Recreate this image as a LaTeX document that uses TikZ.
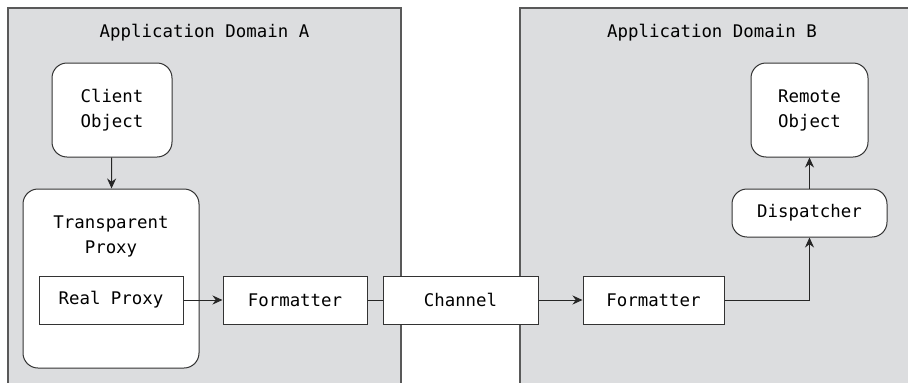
\documentclass[tikz,border=0pt]{standalone}
\usepackage{fontspec}
\setmonofont{DejaVu Sans Mono}
\usetikzlibrary{arrows.meta}
\begin{document}
\begin{tikzpicture}[
    x=1pt,y=-1pt,
    appdomain/.style={fill=domaingray,draw=none},
    edge/.style={draw=black!65,line width=1.1pt},
    title/.style={font=\ttfamily\fontsize{17.4}{25}\selectfont},
    box/.style={draw=black!80,fill=white,line width=1pt,align=center,inner sep=0pt,
        font=\ttfamily\fontsize{17.4}{25}\selectfont},
    rbox/.style={box,rounded corners=15pt},
    link/.style={draw=black!85,line width=1pt},
    >={Stealth[length=10pt,width=9pt]}
]
\definecolor{domaingray}{HTML}{DCDDDF}
\useasboundingbox (0,0) rectangle (908,383);

% application domains
\fill[appdomain] (8,8) rectangle (401,383);
\fill[appdomain] (520,8) rectangle (908,383);
\draw[edge] (8,383)--(8,8)--(401,8)--(401,383);
\draw[edge] (520,383)--(520,8)--(908,8);
\node[title] (titleA) at (204.5,33) {Application Domain A};
\node[title] (titleB) at (712,33) {Application Domain B};

% domain A
\node[rbox,minimum width=120pt,minimum height=94pt] (client) at (112,110) {Client\\Object};
\node[rbox,minimum width=176pt,minimum height=179pt] (transp) at (111,278.5) {};
\node[title,align=center] (transplabel) at (111,236.5) {Transparent\\Proxy};
\node[box,minimum width=144pt,minimum height=48pt] (real) at (111,300) {Real Proxy};
\node[box,minimum width=144pt,minimum height=48pt] (fmtA) at (295,300) {Formatter};

% channel
\node[box,minimum width=155pt,minimum height=48pt] (channel) at (460.5,300) {Channel};

% domain B
\node[box,minimum width=141pt,minimum height=48pt] (fmtB) at (653.5,300) {Formatter};
\node[rbox,minimum width=155pt,minimum height=48pt] (disp) at (809.5,213) {Dispatcher};
\node[rbox,minimum width=117pt,minimum height=94pt] (remote) at (809.5,110) {Remote\\Object};

\draw[->,link] (client)--(transp);
\draw[->,link] (real)--(fmtA);
\draw[link] (fmtA)--(channel);
\draw[->,link] (channel)--(fmtB);
\draw[->,link] (fmtB.east)-|(disp.south);
\draw[->,link] (disp)--(remote);
\end{tikzpicture}
\end{document}
